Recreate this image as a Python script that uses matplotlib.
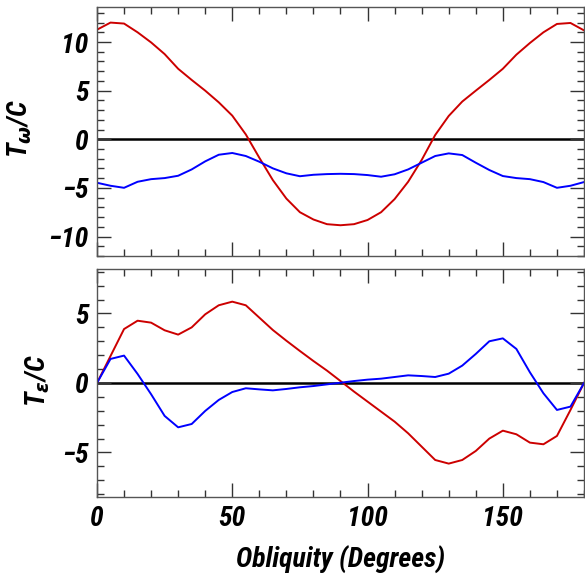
import matplotlib
matplotlib.use("Agg")
import matplotlib.pyplot as plt
from matplotlib.ticker import MultipleLocator

plt.rcParams['font.family'] = ['Roboto Condensed', 'DejaVu Sans']
plt.rcParams['font.weight'] = 'bold'
plt.rcParams['font.style'] = 'italic'
plt.rcParams['axes.labelweight'] = 'bold'
plt.rcParams['mathtext.fontset'] = 'custom'
plt.rcParams['mathtext.it'] = 'Roboto Condensed:italic:bold'
plt.rcParams['mathtext.rm'] = 'DejaVu Sans'
plt.rcParams['axes.unicode_minus'] = True

# obliquity grid (degrees)
obliquity = list(range(0, 181, 5))

# torque on precession angle, omega
t_omega_red = [11.27, 12.0, 11.9, 11.0, 9.96, 8.76, 7.25, 6.1, 5.0, 3.8, 2.43, 0.5,
               -1.9, -4.2, -6.1, -7.5, -8.25, -8.73, -8.84, -8.73, -8.3, -7.5, -6.15,
               -4.37, -2.13, 0.44, 2.4, 3.88, 5.0, 6.1, 7.25, 8.7, 9.9, 11.0, 11.86,
               11.96, 11.2]
t_omega_blue = [-4.47, -4.78, -4.99, -4.37, -4.1, -3.99, -3.75, -3.1, -2.27, -1.59,
                -1.41, -1.72, -2.31, -2.99, -3.5, -3.8, -3.65, -3.58, -3.55, -3.58,
                -3.68, -3.85, -3.6, -3.1, -2.41, -1.72, -1.45, -1.62, -2.41, -3.16,
                -3.78, -3.99, -4.1, -4.4, -4.99, -4.78, -4.4]

# torque on obliquity, epsilon
t_eps_red = [0.0, 1.94, 3.88, 4.48, 4.34, 3.79, 3.48, 4.0, 4.94, 5.59, 5.85, 5.59,
             4.7, 3.81, 3.04, 2.3, 1.58, 0.89, 0.14, -0.62, -1.34, -2.06, -2.78,
             -3.62, -4.58, -5.54, -5.8, -5.54, -4.89, -4.0, -3.43, -3.69, -4.29,
             -4.41, -3.81, -1.94, 0.0]
t_eps_blue = [0.0, 1.73, 1.97, 0.65, -0.81, -2.37, -3.19, -2.95, -2.01, -1.22, -0.65,
              -0.38, -0.46, -0.53, -0.43, -0.31, -0.22, -0.1, 0.02, 0.14, 0.24, 0.31,
              0.43, 0.55, 0.5, 0.43, 0.67, 1.25, 2.09, 3.0, 3.21, 2.45, 0.77, -0.74,
              -1.94, -1.7, 0.0]

RED = '#cc0000'
BLUE = '#0000ff'

fig = plt.figure(figsize=(5.85, 5.76), dpi=100)
ax1 = fig.add_axes([0.1658, 0.5556, 0.8325, 0.4322])
ax2 = fig.add_axes([0.1658, 0.1372, 0.8325, 0.3958])


def style_axis(ax):
    ax.set_xlim(0, 180)
    ax.xaxis.set_major_locator(MultipleLocator(50))
    ax.xaxis.set_minor_locator(MultipleLocator(10))
    ax.yaxis.set_major_locator(MultipleLocator(5))
    ax.yaxis.set_minor_locator(MultipleLocator(1))
    ax.tick_params(which='both', direction='in', top=True, right=True,
                   color='#333333', labelsize=20)
    ax.tick_params(which='major', length=10, width=1.0, pad=6)
    ax.tick_params(which='minor', length=5, width=1.0)
    for s in ax.spines.values():
        s.set_color('#555555')
        s.set_linewidth(1.0)
    ax.axhline(0, color='black', lw=1.8, zorder=1)


ax1.plot(obliquity, t_omega_red, color=RED, lw=1.4)
ax1.plot(obliquity, t_omega_blue, color=BLUE, lw=1.4)
style_axis(ax1)
ax1.set_ylim(-12, 13.6)
ax1.tick_params(labelbottom=False)
ax1.set_ylabel(r'$T_{\mathrm{\omega}}$/C', fontsize=20)
ax1.yaxis.set_label_coords(-0.13, 0.51)

ax2.plot(obliquity, t_eps_red, color=RED, lw=1.4)
ax2.plot(obliquity, t_eps_blue, color=BLUE, lw=1.4)
style_axis(ax2)
ax2.set_ylim(-8.2, 8.2)
ax2.set_xlabel('Obliquity (Degrees)', fontsize=20, labelpad=10)
ax2.set_ylabel(r'$T_{\mathrm{\epsilon}}$/C', fontsize=20)
ax2.yaxis.set_label_coords(-0.093, 0.51)

fig.savefig('out.png', dpi=100)
